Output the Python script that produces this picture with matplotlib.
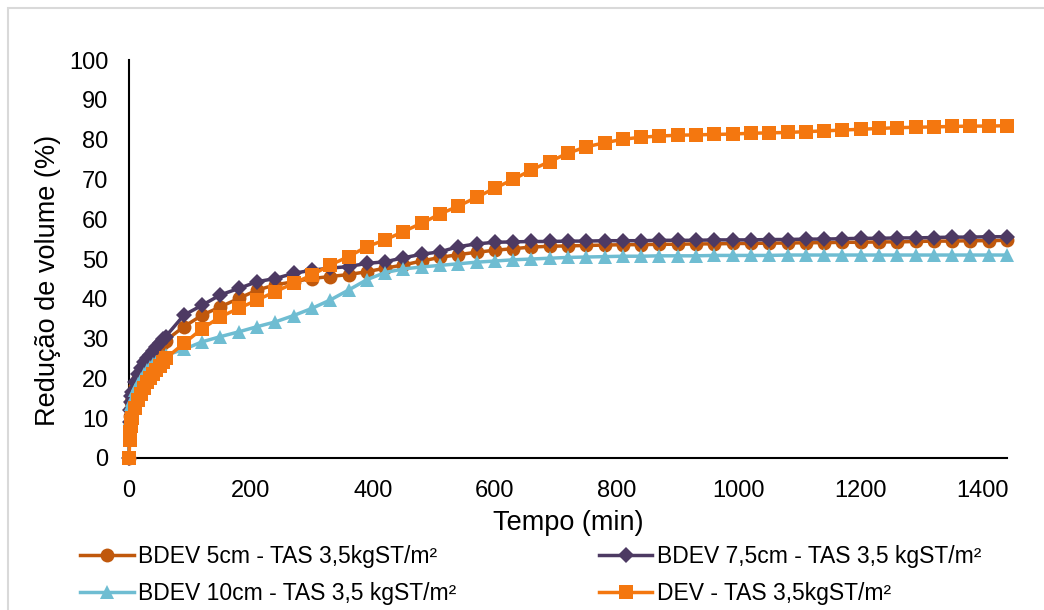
import matplotlib
matplotlib.use("Agg")
import matplotlib.pyplot as plt
from matplotlib.patches import Rectangle

plt.rcParams['font.family'] = ['Liberation Sans', 'DejaVu Sans']

# Sampling times (min)
tempo = [0, 1, 2, 3, 4, 5, 10, 15, 20, 25, 30, 35, 40, 45, 50, 55, 60,
         90, 120, 150, 180, 210, 240, 270, 300, 330, 360,
         390, 420, 450, 480, 510, 540, 570, 600, 630, 660,
         690, 720, 750, 780, 810, 840, 870, 900, 930, 960,
         990, 1020, 1050, 1080, 1110, 1140, 1170, 1200, 1230, 1260,
         1290, 1320, 1350, 1380, 1410, 1440]

# Volume reduction (%) per treatment
bdev_5cm = [0, 7.5, 10.5, 12.5, 14, 15, 18, 20, 21.5, 23, 24, 25, 26, 27, 28, 28.8, 29.5,
            33, 35.9, 38, 40.1, 42.2, 43.5, 44.3, 45.1, 45.6, 46.1,
            46.8, 47.7, 48.5, 49.5, 50.4, 51.1, 51.7, 52.2, 52.6, 53.0,
            53.2, 53.3, 53.4, 53.5, 53.6, 53.6, 53.7, 53.7, 53.8, 53.8,
            53.9, 53.9, 54.0, 54.0, 54.1, 54.1, 54.2, 54.2, 54.3, 54.3,
            54.4, 54.5, 54.5, 54.6, 54.6, 54.7]

bdev_7_5cm = [0, 9, 12, 14, 15.5, 16.5, 19, 21, 22.5, 24, 25, 26, 27, 28, 29, 29.8, 30.5,
              35.9, 38.4, 41, 42.6, 44.3, 45.1, 46.4, 47.2, 47.7, 48.1,
              48.9, 49.3, 50.3, 51.2, 51.8, 53.1, 53.8, 54.2, 54.3, 54.4,
              54.4, 54.5, 54.5, 54.6, 54.6, 54.6, 54.7, 54.7, 54.7, 54.8,
              54.8, 54.8, 54.9, 54.9, 55.0, 55.0, 55.1, 55.2, 55.2, 55.3,
              55.3, 55.4, 55.5, 55.5, 55.6, 55.6]

bdev_10cm = [0, 7, 10, 12, 13.5, 14.5, 17, 18.5, 19.8, 21, 22, 22.8, 23.5, 24.2, 24.8, 25.3, 25.8,
             27.3, 29.2, 30.5, 31.7, 33, 34.2, 35.8, 37.6, 39.7, 42.2,
             44.8, 46.6, 47.5, 48.0, 48.4, 48.8, 49.2, 49.5, 49.8, 50.0,
             50.2, 50.4, 50.5, 50.6, 50.7, 50.7, 50.8, 50.8, 50.8, 50.9,
             50.9, 50.9, 50.9, 51.0, 51.0, 51.0, 51.0, 51.0, 51.0, 51.0,
             51.0, 51.0, 51.0, 51.0, 51.0, 51.0]

dev = [0, 4.5, 6.5, 8, 9, 10, 12.5, 14.5, 16, 17.5, 19, 20, 21, 22, 23, 24, 25,
       28.8, 32.5, 35.5, 37.6, 39.7, 41.8, 43.9, 46, 48.5, 50.6,
       53.1, 54.8, 56.9, 59.0, 61.3, 63.3, 65.5, 67.8, 70.0, 72.4,
       74.5, 76.6, 78.2, 79.2, 80.1, 80.6, 80.9, 81.1, 81.2, 81.3,
       81.4, 81.6, 81.7, 81.8, 82.0, 82.2, 82.4, 82.6, 82.8, 83.0,
       83.1, 83.2, 83.3, 83.4, 83.4, 83.5]

series_labels = ["BDEV 5cm - TAS 3,5kgST/m²",
                 "BDEV 7,5cm - TAS 3,5 kgST/m²",
                 "BDEV 10cm - TAS 3,5 kgST/m²",
                 "DEV - TAS 3,5kgST/m²"]

y_ticks = [0, 10, 20, 30, 40, 50, 60, 70, 80, 90, 100]
x_ticks = [0, 200, 400, 600, 800, 1000, 1200, 1400]

TICK_FS = 17
LEG_FS = 16.5
TITLE_FS = 19.5

fig = plt.figure(figsize=(10.44, 6.10), dpi=100)
ax = fig.add_axes([0.1236, 0.2492, 0.841, 0.6524])

# thin grey frame around the chart area
fig.patches.append(Rectangle((8 / 1044, -0.1), 1.2, 1 - 8 / 610 + 0.1,
                             transform=fig.transFigure, fill=False,
                             edgecolor='#d9d9d9', linewidth=1.5))

styles = [
    (bdev_5cm, '#C0580C', 'o', 10),
    (bdev_7_5cm, '#4D3A63', 'D', 8.5),
    (bdev_10cm, '#6FBDD2', '^', 10.5),
    (dev, '#F4770F', 's', 10),
]
handles = []
for (vals, col, mk, ms), lab in zip(styles, series_labels):
    h, = ax.plot(tempo, vals, color=col, linewidth=2.5, marker=mk, markersize=ms,
                 markeredgewidth=0, label=lab, clip_on=False, zorder=3)
    handles.append(h)

ax.set_xlim(0, 1440)
ax.set_ylim(0, 100)
ax.set_xticks(x_ticks)
ax.set_yticks(y_ticks)
ax.tick_params(axis='both', length=0, labelsize=TICK_FS, colors='black')
ax.tick_params(axis='x', pad=15.5)
ax.tick_params(axis='y', pad=15)

for side in ['top', 'right']:
    ax.spines[side].set_visible(False)
for side in ['left', 'bottom']:
    ax.spines[side].set_color('black')
    ax.spines[side].set_linewidth(1.5)
    ax.spines[side].set_zorder(2)

ax.set_xlabel("Tempo (min)", fontsize=TITLE_FS, labelpad=6)
ax.set_ylabel("Redução de volume (%)", fontsize=TITLE_FS)
ax.yaxis.set_label_coords(-0.078, 0.447)

# legend filled row by row: (5cm, 7,5cm) / (10cm, DEV)
order = [0, 2, 1, 3]
fig.legend([handles[i] for i in order], [series_labels[i] for i in order],
           loc='upper left', bbox_to_anchor=(73 / 1044, 1 - 538 / 610), ncol=2,
           frameon=False, fontsize=LEG_FS, handlelength=2.35, handletextpad=0.2,
           columnspacing=6.2, labelspacing=0.62, borderaxespad=0,
           borderpad=0.3)

fig.savefig("out.png", dpi=100, facecolor='white')
